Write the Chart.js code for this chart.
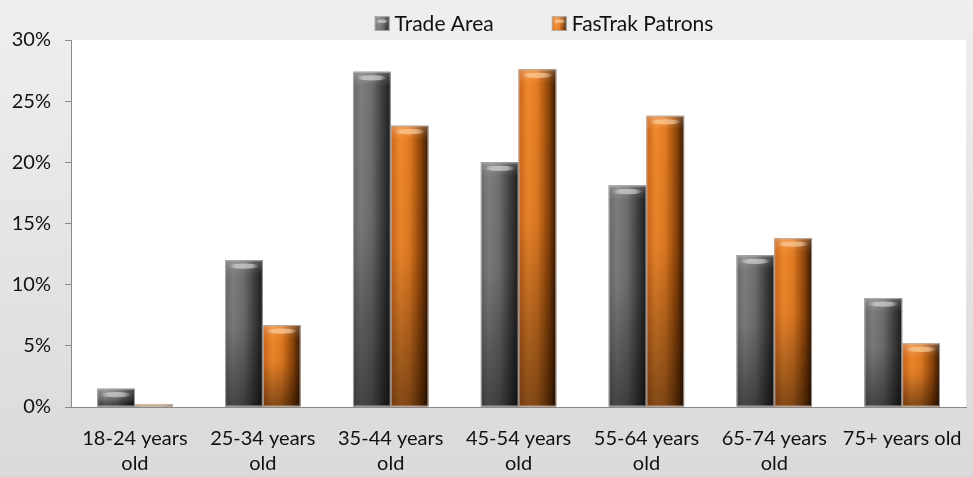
<!DOCTYPE html>
<html>
<head>
<meta charset="utf-8">
<script src="https://cdn.jsdelivr.net/npm/chart.js@4/dist/chart.umd.min.js"></script>
<style>
  html, body { margin: 0; padding: 0; }
  body { width: 973px; height: 477px; background: linear-gradient(#efefef, #dadada); }
  #wrap { position: relative; width: 973px; height: 477px; }
</style>
</head>
<body>
<div id="wrap"><canvas id="chart" width="973" height="477"></canvas></div>
<script>
// Age groups (multi-line labels)
const categories = [
  ['18-24 years', 'old'],
  ['25-34 years', 'old'],
  ['35-44 years', 'old'],
  ['45-54 years', 'old'],
  ['55-64 years', 'old'],
  ['65-74 years', 'old'],
  '75+ years old'
];
// Share of each age group, in percent
const tradeArea      = [1.5, 12.0, 27.4, 20.0, 18.1, 12.4, 8.9];
const fastrakPatrons = [0.2, 6.7, 23.0, 27.6, 23.8, 13.8, 5.2];
const seriesNames = ['Trade Area', 'FasTrak Patrons'];
const yTicks = [0, 5, 10, 15, 20, 25, 30];

const FONT = 'Lato, "Open Sans", sans-serif';
const TICK_SIZE = 20;
const LEGEND_SIZE = 21;

// Shaded "glass column" look for each series
const styles = [
  {
    base: '#5e5e5e',
    stops: [[0, '#6a6a6a'], [0.22, '#7e7e7e'], [0.5, '#6d6d6d'], [0.78, '#3e3e3e'], [1, '#1c1c1c']],
    hi: 'rgba(225,225,225,0.6)'
  },
  {
    base: '#d8721f',
    stops: [[0, '#cb661b'], [0.25, '#f2892c'], [0.5, '#e27b22'], [0.8, '#8e4408'], [1, '#361803']],
    hi: 'rgba(255,210,160,0.65)'
  }
];

function paintColumn(ctx, left, top, w, h, st, fade) {
  if (h <= 0 || w <= 0) return;
  ctx.save();
  ctx.beginPath();
  ctx.rect(left, top, w, h);
  ctx.clip();
  const hg = ctx.createLinearGradient(left, 0, left + w, 0);
  st.stops.forEach(s => hg.addColorStop(s[0], s[1]));
  ctx.fillStyle = hg;
  ctx.fillRect(left, top, w, h);
  if (fade) {
    const vg = ctx.createLinearGradient(0, top, 0, top + h);
    vg.addColorStop(0, 'rgba(0,0,0,0)');
    vg.addColorStop(0.45, 'rgba(0,0,0,0.05)');
    vg.addColorStop(1, 'rgba(0,0,0,0.45)');
    ctx.fillStyle = vg;
    ctx.fillRect(left, top, w, h);
  }
  // bevelled top edge
  const tg = ctx.createLinearGradient(0, top, 0, top + 14);
  tg.addColorStop(0, 'rgba(255,255,255,0.22)');
  tg.addColorStop(1, 'rgba(255,255,255,0)');
  ctx.fillStyle = tg;
  ctx.fillRect(left, top, w, 14);
  // soft highlight band near the top
  const hx = left + w * 0.1, hw = w * 0.8, hy = top + Math.min(6, h * 0.35);
  const sg = ctx.createLinearGradient(hx, 0, hx + hw, 0);
  sg.addColorStop(0, 'rgba(255,255,255,0)');
  sg.addColorStop(0.25, st.hi);
  sg.addColorStop(0.75, st.hi);
  sg.addColorStop(1, 'rgba(255,255,255,0)');
  ctx.fillStyle = sg;
  ctx.beginPath();
  ctx.ellipse(hx + hw / 2, hy, hw / 2, Math.min(2.6, w * 0.12), 0, 0, Math.PI * 2);
  ctx.fill();
  ctx.restore();
  ctx.strokeStyle = 'rgba(180,180,180,0.85)';
  ctx.lineWidth = 1;
  ctx.strokeRect(left + 0.5, top + 0.5, w - 1, Math.max(h - 1, 0));
}

// White plot area
const plotBackground = {
  id: 'plotBackground',
  beforeDraw(chart) {
    const { ctx, chartArea: a } = chart;
    ctx.save();
    ctx.fillStyle = '#ffffff';
    ctx.fillRect(a.left, a.top, a.right - a.left, a.bottom - a.top);
    ctx.restore();
  }
};

// Re-paints every bar element with the shaded column style
const columnShading = {
  id: 'columnShading',
  afterDatasetsDraw(chart) {
    const ctx = chart.ctx;
    chart.data.datasets.forEach((ds, i) => {
      const meta = chart.getDatasetMeta(i);
      meta.data.forEach(el => {
        const p = el.getProps(['x', 'y', 'base', 'width'], true);
        const left = p.x - p.width / 2;
        const top = Math.min(p.y, p.base);
        const h = Math.abs(p.base - p.y);
        paintColumn(ctx, left, top, p.width, h, styles[i], true);
      });
    });
  }
};

// Legend row above the plot
const legendRow = {
  id: 'legendRow',
  afterDraw(chart) {
    const ctx = chart.ctx;
    ctx.save();
    ctx.font = LEGEND_SIZE + 'px ' + FONT;
    ctx.textBaseline = 'middle';
    const box = 15, gapText = 5, gapItem = 58;
    const widths = chart.data.datasets.map(d => box + gapText + ctx.measureText(d.label).width);
    const total = widths.reduce((s, w) => s + w, 0) + gapItem * (widths.length - 1);
    let x = 544 - total / 2;
    const cy = 23;
    chart.data.datasets.forEach((d, i) => {
      paintColumn(ctx, x, cy - 7, box, box, styles[i], false);
      ctx.fillStyle = '#111';
      ctx.fillText(d.label, x + box + gapText, cy + 1);
      x += widths[i] + gapItem;
    });
    ctx.restore();
  }
};

new Chart(document.getElementById('chart'), {
  type: 'bar',
  data: {
    labels: categories,
    datasets: [
      { label: seriesNames[0], data: tradeArea, backgroundColor: styles[0].base },
      { label: seriesNames[1], data: fastrakPatrons, backgroundColor: styles[1].base }
    ]
  },
  options: {
    responsive: false,
    animation: false,
    devicePixelRatio: 1,
    layout: { padding: { top: 40, right: 6, left: 0, bottom: 0 } },
    datasets: { bar: { categoryPercentage: 0.59, barPercentage: 1.0 } },
    plugins: { legend: { display: false }, tooltip: { enabled: false } },
    scales: {
      x: {
        grid: { display: false },
        border: { display: true, color: '#8a8a8a', width: 1 },
        ticks: {
          color: '#111',
          font: { family: FONT, size: TICK_SIZE, lineHeight: 1.25 },
          padding: 11,
          maxRotation: 0,
          autoSkip: false
        },
        afterFit(scale) { scale.height = 70; }
      },
      y: {
        min: 0,
        max: 30,
        afterBuildTicks(scale) { scale.ticks = yTicks.map(v => ({ value: v })); },
        grid: { drawOnChartArea: false, drawTicks: true, tickLength: 6, color: '#8a8a8a' },
        border: { display: true, color: '#8a8a8a', width: 1 },
        ticks: {
          color: '#111',
          font: { family: FONT, size: TICK_SIZE },
          padding: 14,
          callback: v => v + '%'
        },
        afterFit(scale) { scale.width = 71; }
      }
    }
  },
  plugins: [plotBackground, columnShading, legendRow]
});
</script>
</body>
</html>
